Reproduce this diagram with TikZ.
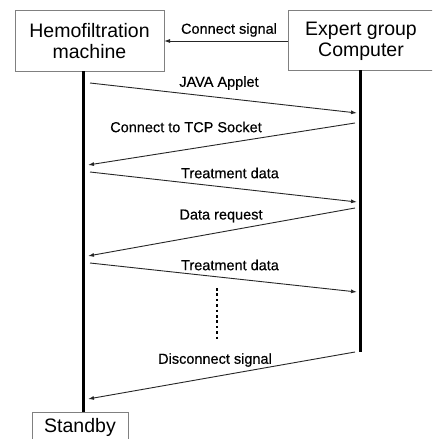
\documentclass[tikz,border=0pt]{standalone}
\usepackage{fontspec}
\setmainfont{Liberation Sans}
\newfontfamily\lblfont[FakeBold=0.4]{Liberation Sans}
\usetikzlibrary{arrows.meta}
\begin{document}
\begin{tikzpicture}[x=1pt,y=1pt,
  boxline/.style={draw=black!50, line width=1pt},
  actortext/.style={align=center, inner sep=0pt, font=\fontsize{19.5}{21}\selectfont},
  life/.style={line width=3pt, black},
  msg/.style={draw=black!85, line width=0.9pt, -{Latex[length=6pt,width=4pt]}},
  lbl/.style={font=\lblfont\fontsize{14.5}{16}\selectfont, inner sep=0pt, text=black}]
\useasboundingbox (0,0) rectangle (432,-439);
\fill[white] (0,0) rectangle (432,-439);
\begin{scope}
\clip (0,0) rectangle (432,-439);
% actors
\draw[boxline] (15,-10) rectangle (164,-71);
\node[actortext] (hm) at (89.5,-41) {Hemofiltration\\machine};
\draw[boxline] (288,-10) rectangle (436,-70);
\node[actortext] (ex) at (361,-41) {Expert group\\Computer};
\draw[boxline] (32,-412) rectangle (128,-460);
\node[actortext] (sb) at (80,-427) {Standby};
% lifelines
\coordinate (lt) at (83,-71);
\coordinate (lb) at (83,-412);
\coordinate (rt) at (360,-70);
\coordinate (rb) at (360,-352);
\draw[life] (lt) -- (lb);
\draw[life] (rt) -- (rb);
% connect signal
\coordinate (cs1) at (288,-41);
\coordinate (cs2) at (164,-41);
\draw[msg] (cs1) -- (cs2);
\node[lbl] (l0) at (229,-30) {Connect signal};
% message endpoints
\coordinate (a1) at (90,-83);   \coordinate (b1) at (357,-113);
\coordinate (a2) at (355,-123); \coordinate (b2) at (88,-165);
\coordinate (a3) at (90,-172);  \coordinate (b3) at (357,-202);
\coordinate (a4) at (355,-208); \coordinate (b4) at (88,-256);
\coordinate (a5) at (90,-263);  \coordinate (b5) at (357,-292);
\coordinate (a6) at (355,-352); \coordinate (b6) at (88,-399);
\draw[msg] (a1) -- (b1);
\draw[msg] (a2) -- (b2);
\draw[msg] (a3) -- (b3);
\draw[msg] (a4) -- (b4);
\draw[msg] (a5) -- (b5);
\draw[msg] (a6) -- (b6);
\node[lbl] (l1) at (219,-83) {JAVA Applet};
\node[lbl] (l2) at (186,-127) {Connect to TCP Socket};
\node[lbl] (l3) at (230,-173) {Treatment data};
\node[lbl] (l4) at (221,-216) {Data request};
\node[lbl] (l5) at (230,-265) {Treatment data};
\node[lbl] (l6) at (215,-360) {Disconnect signal};
% dots
\coordinate (d1) at (217,-288);
\coordinate (d2) at (217,-341);
\draw[line width=2.8pt, dash pattern=on 2.6pt off 2.8pt] (d1) -- (d2);
\end{scope}
\end{tikzpicture}
\end{document}
